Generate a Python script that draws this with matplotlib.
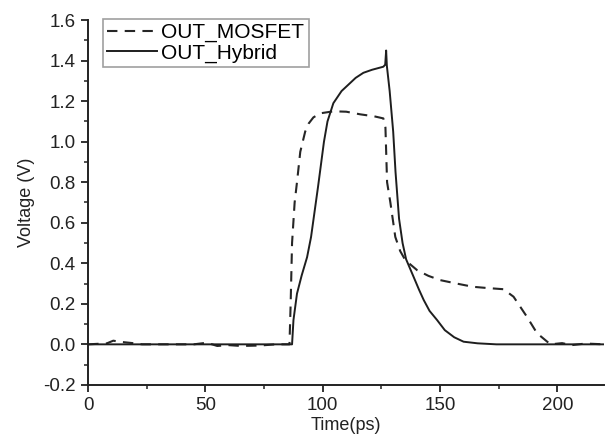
import matplotlib
matplotlib.use('Agg')
import matplotlib.pyplot as plt
from matplotlib.ticker import MultipleLocator, FormatStrFormatter

plt.rcParams['font.family'] = ['Liberation Sans', 'DejaVu Sans']

# OUT_MOSFET (dashed) trace
t_mosfet = [0, 8, 10.7, 14, 19, 23, 45, 50.6, 55, 60, 65, 73, 80, 85.8, 86.3, 86.9,
            88, 89, 90.4, 92.5, 94, 96, 98.9, 104.5, 110, 116, 122, 125.8, 126.7,
            127.4, 128.8, 130.9, 133, 135.2, 140.2, 145, 150, 157, 164, 170, 177,
            181.3, 187, 191.3, 197, 202, 206, 212, 220]
v_mosfet = [0, 0.005, 0.018, 0.012, 0.006, 0, 0, 0.008, -0.008, -0.004, -0.008, -0.006,
            0, 0, 0.2, 0.5, 0.7, 0.8, 0.95, 1.05, 1.09, 1.12, 1.14, 1.15, 1.148, 1.135,
            1.125, 1.115, 1.07, 0.8, 0.7, 0.53, 0.46, 0.415, 0.366, 0.338, 0.317, 0.3,
            0.284, 0.278, 0.272, 0.235, 0.136, 0.055, 0.0, 0.006, -0.004, 0.004, 0]

# OUT_Hybrid (solid) trace
t_hybrid = [0, 20, 50, 80, 86.9, 87.5, 89, 91, 93.3, 95, 98, 100.5, 102, 104.5,
            108, 111.7, 114, 117.3, 121, 125.8, 126.6, 127, 127.3, 128.5, 130,
            131, 132.5, 134, 135.5, 138.7, 141, 143, 145.5, 148.7, 152, 156, 160,
            166, 174, 185, 200, 220]
v_hybrid = [0, 0, 0, 0, 0, 0.12, 0.25, 0.34, 0.43, 0.53, 0.78, 1.0, 1.1, 1.19,
            1.25, 1.29, 1.315, 1.34, 1.355, 1.37, 1.38, 1.45, 1.375, 1.25, 1.05,
            0.85, 0.62, 0.5, 0.42, 0.333, 0.27, 0.219, 0.165, 0.12, 0.07, 0.035,
            0.013, 0.005, 0.0, 0, 0, 0]

fig = plt.figure(figsize=(6.08, 4.47), dpi=100)
ax = fig.add_axes([0.145, 0.139, 0.849, 0.816])

ax.plot(t_mosfet, v_mosfet, color='#262626', lw=1.5, ls=(0, (5, 3.5)),
        label='OUT_MOSFET')
ax.plot(t_hybrid, v_hybrid, color='#1e1e1e', lw=1.4, label='OUT_Hybrid')

ax.set_xlim(0, 220)
ax.set_ylim(-0.2, 1.6)
ax.xaxis.set_major_locator(MultipleLocator(50))
ax.xaxis.set_minor_locator(MultipleLocator(25))
ax.yaxis.set_major_locator(MultipleLocator(0.2))
ax.yaxis.set_minor_locator(MultipleLocator(0.1))
ax.yaxis.set_major_formatter(FormatStrFormatter('%.1f'))

for side in ['top', 'right']:
    ax.spines[side].set_visible(False)
for side in ['left', 'bottom']:
    ax.spines[side].set_linewidth(1.4)
    ax.spines[side].set_color('#222222')

ax.tick_params(which='major', direction='out', length=5, width=1.3,
               labelsize=13.5, colors='#222222', pad=4)
ax.tick_params(which='minor', direction='out', length=3, width=1.1,
               colors='#222222')

ax.set_xlabel('Time(ps)', fontsize=13, color='#222222', labelpad=2)
ax.set_ylabel('Voltage (V)', fontsize=13, color='#222222', labelpad=6)

leg = ax.legend(loc='upper left', bbox_to_anchor=(0.029, 1.004), fontsize=15,
                frameon=True, fancybox=False, handlelength=2.4,
                borderpad=0.2, labelspacing=0.08, handletextpad=0.2,
                borderaxespad=0.0)
leg.get_frame().set_edgecolor('#888888')
leg.get_frame().set_linewidth(1.2)

fig.savefig('out.png', dpi=100)
